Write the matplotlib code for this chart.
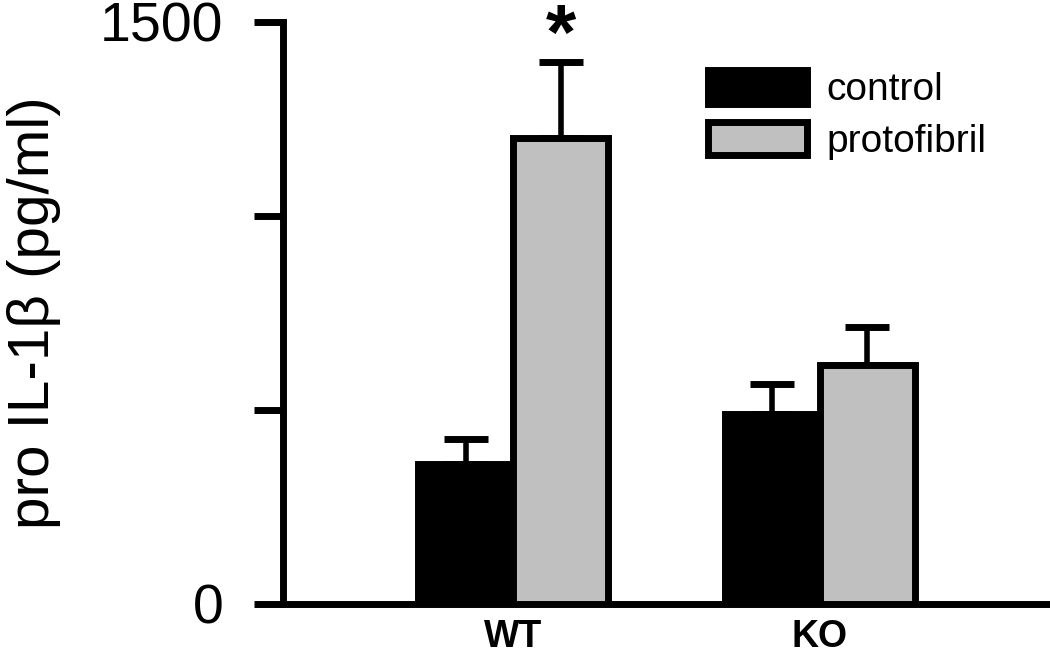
import matplotlib
matplotlib.use("Agg")
import matplotlib.pyplot as plt
import numpy as np

plt.rcParams["font.family"] = ["Liberation Sans", "DejaVu Sans"]

groups = ["WT", "KO"]
control = [360, 490]
control_err = [65, 77]
protofibril = [1202, 616]
protofibril_err = [196, 99]
y_ticks = [0, 500, 1000, 1500]
y_tick_labels = ["0", "", "", "1500"]

fig = plt.figure(figsize=(10.5, 6.56), dpi=100)
ax = fig.add_axes([283 / 1050, 52 / 656, 767 / 1050, 582 / 656])

x = np.arange(len(groups))
w = 0.31
ax.bar(x - w / 2, control, width=w, color="black", edgecolor="black",
       linewidth=5, label="control", zorder=3)
ax.bar(x + w / 2, protofibril, width=w, color="#c0c0c0", edgecolor="black",
       linewidth=5, label="protofibril", zorder=3)
ax.errorbar(x - w / 2, control, yerr=[np.zeros(2), control_err], fmt="none",
            ecolor="black", elinewidth=4, capsize=16, capthick=5, zorder=2)
ax.errorbar(x + w / 2, protofibril, yerr=[np.zeros(2), protofibril_err], fmt="none",
            ecolor="black", elinewidth=4, capsize=16, capthick=5, zorder=2)

# significance marker over WT protofibril
ax.text(x[0] + w / 2, protofibril[0] + protofibril_err[0] + 6, "*",
        ha="center", va="baseline", fontsize=56, fontweight="bold")

ax.set_xlim(-0.75, 1.75)
ax.set_ylim(0, 1500)
ax.set_xticks(x)
ax.set_xticklabels(groups, fontsize=27, fontweight="bold")
ax.tick_params(axis="x", length=0, pad=11)
ax.set_yticks(y_ticks)
ax.set_yticklabels(y_tick_labels, fontsize=40)
ax.tick_params(axis="y", direction="out", length=21, width=5, pad=22)

for side in ["top", "right"]:
    ax.spines[side].set_visible(False)
for side in ["left", "bottom"]:
    ax.spines[side].set_linewidth(5)

ax.set_ylabel("pro IL-1\u03b2 (pg/ml)", fontsize=42)
ax.yaxis.set_label_coords(-0.29, 0.5)

ax.legend(loc="upper left", bbox_to_anchor=(708 / 1050, 1 - 70 / 656),
          bbox_transform=fig.transFigure, frameon=False, fontsize=28,
          handlelength=2.55, handleheight=0.95, handletextpad=0.5,
          labelspacing=0.35, borderpad=0, borderaxespad=0)

fig.savefig("out.png", dpi=100)
plt.close(fig)
